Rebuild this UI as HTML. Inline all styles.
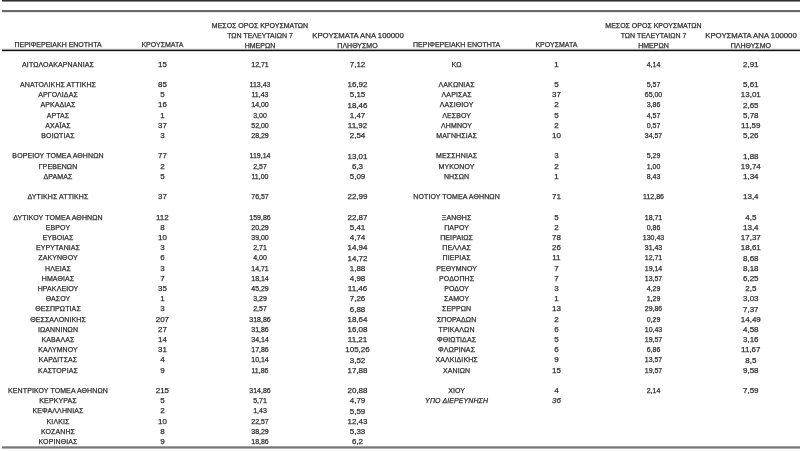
<!DOCTYPE html>
<html><head><meta charset="utf-8"><style>
html,body{margin:0;padding:0;background:#fff;}
body{width:800px;height:451px;position:relative;overflow:hidden;font-family:"Liberation Sans",Arial,sans-serif;color:#2a2a2a;}
.ln{position:absolute;left:2px;right:0;}
div.h,div.n,div.c,div.m,div.p{position:absolute;width:200px;text-align:center;white-space:nowrap;}
#t{position:absolute;left:0;top:0;width:800px;height:451px;will-change:transform;}
.it{font-style:italic} body{-webkit-text-stroke:0.25px #333;} .n{letter-spacing:0.1px}.h{font-size:7px;line-height:10px;}.n{font-size:7px;line-height:10px;}.c{font-size:8px;line-height:10px;}.m{font-size:7px;line-height:10px;}.p{font-size:8px;line-height:10px;}
</style></head><body>
<div class="ln" style="top:0px;height:1px;background:#303030"></div><div class="ln" style="top:1px;height:1px;background:#8a8a8a"></div><div class="ln" style="top:10px;height:1px;background:#6a6a6a"></div><div class="ln" style="top:11px;height:1px;background:#6a6a6a"></div><div class="ln" style="top:12px;height:1px;background:#e4e4e4"></div><div class="ln" style="top:48px;height:1px;background:#eeeeee"></div><div class="ln" style="top:49px;height:1px;background:#9a9a9a"></div><div class="ln" style="top:50px;height:1px;background:#111111"></div><div class="ln" style="top:51px;height:1px;background:#d8d8d8"></div><div class="ln" style="top:446px;height:1px;background:#a0a0a0"></div><div class="ln" style="top:447px;height:1px;background:#787878"></div><div class="ln" style="top:448px;height:1px;background:#b0b0b0"></div>
<div id="t">
<div class="h" style="left:-42.00px;top:40.47px">ΠΕΡΙΦΕΡΕΙΑΚΗ ΕΝΟΤΗΤΑ</div>
<div class="h" style="left:62.40px;top:40.47px">ΚΡΟΥΣΜΑΤΑ</div>
<div class="h" style="left:160.00px;top:20.57px">ΜΕΣΟΣ ΟΡΟΣ ΚΡΟΥΣΜΑΤΩΝ</div>
<div class="h" style="left:160.00px;top:31.27px">ΤΩΝ ΤΕΛΕΥΤΑΙΩΝ 7</div>
<div class="h" style="left:160.00px;top:40.77px">ΗΜΕΡΩΝ</div>
<div class="h" style="left:257.50px;top:31.27px;transform:scaleX(1.11)">ΚΡΟΥΣΜΑΤΑ ΑΝΑ 100000</div>
<div class="h" style="left:257.50px;top:40.77px">ΠΛΗΘΥΣΜΟ</div>
<div class="h" style="left:356.60px;top:40.47px">ΠΕΡΙΦΕΡΕΙΑΚΗ ΕΝΟΤΗΤΑ</div>
<div class="h" style="left:456.40px;top:40.47px">ΚΡΟΥΣΜΑΤΑ</div>
<div class="h" style="left:553.50px;top:20.57px">ΜΕΣΟΣ ΟΡΟΣ ΚΡΟΥΣΜΑΤΩΝ</div>
<div class="h" style="left:553.50px;top:31.27px">ΤΩΝ ΤΕΛΕΥΤΑΙΩΝ 7</div>
<div class="h" style="left:553.50px;top:40.77px">ΗΜΕΡΩΝ</div>
<div class="h" style="left:650.80px;top:31.27px;transform:scaleX(1.11)">ΚΡΟΥΣΜΑΤΑ ΑΝΑ 100000</div>
<div class="h" style="left:650.80px;top:40.77px">ΠΛΗΘΥΣΜΟ</div>
<div class="n" style="left:-42.00px;top:59.57px">ΑΙΤΩΛΟΑΚΑΡΝΑΝΙΑΣ</div>
<div class="c" style="left:62.40px;top:59.63px">15</div>
<div class="m" style="left:160.00px;top:59.57px">12,71</div>
<div class="p" style="left:257.50px;top:59.73px">7,12</div>
<div class="n" style="left:-42.00px;top:79.97px">ΑΝΑΤΟΛΙΚΗΣ ΑΤΤΙΚΗΣ</div>
<div class="c" style="left:62.40px;top:80.03px">85</div>
<div class="m" style="left:160.00px;top:79.97px">113,43</div>
<div class="p" style="left:257.50px;top:80.13px">16,92</div>
<div class="n" style="left:-42.00px;top:90.17px">ΑΡΓΟΛΙΔΑΣ</div>
<div class="c" style="left:62.40px;top:90.23px">5</div>
<div class="m" style="left:160.00px;top:90.17px">11,43</div>
<div class="p" style="left:257.50px;top:90.33px">5,15</div>
<div class="n" style="left:-42.00px;top:100.37px">ΑΡΚΑΔΙΑΣ</div>
<div class="c" style="left:62.40px;top:100.43px">16</div>
<div class="m" style="left:160.00px;top:100.37px">14,00</div>
<div class="p" style="left:257.50px;top:100.53px">18,46</div>
<div class="n" style="left:-42.00px;top:110.57px">ΑΡΤΑΣ</div>
<div class="c" style="left:62.40px;top:110.63px">1</div>
<div class="m" style="left:160.00px;top:110.57px">3,00</div>
<div class="p" style="left:257.50px;top:110.73px">1,47</div>
<div class="n" style="left:-42.00px;top:120.77px">ΑΧΑΪΑΣ</div>
<div class="c" style="left:62.40px;top:120.83px">37</div>
<div class="m" style="left:160.00px;top:120.77px">52,00</div>
<div class="p" style="left:257.50px;top:120.93px">11,92</div>
<div class="n" style="left:-42.00px;top:130.97px">ΒΟΙΩΤΙΑΣ</div>
<div class="c" style="left:62.40px;top:131.03px">3</div>
<div class="m" style="left:160.00px;top:130.97px">28,29</div>
<div class="p" style="left:257.50px;top:131.13px">2,54</div>
<div class="n" style="left:-42.00px;top:151.37px">ΒΟΡΕΙΟΥ ΤΟΜΕΑ ΑΘΗΝΩΝ</div>
<div class="c" style="left:62.40px;top:151.43px">77</div>
<div class="m" style="left:160.00px;top:151.37px">119,14</div>
<div class="p" style="left:257.50px;top:151.53px">13,01</div>
<div class="n" style="left:-42.00px;top:161.57px">ΓΡΕΒΕΝΩΝ</div>
<div class="c" style="left:62.40px;top:161.63px">2</div>
<div class="m" style="left:160.00px;top:161.57px">2,57</div>
<div class="p" style="left:257.50px;top:161.73px">6,3</div>
<div class="n" style="left:-42.00px;top:171.77px">ΔΡΑΜΑΣ</div>
<div class="c" style="left:62.40px;top:171.83px">5</div>
<div class="m" style="left:160.00px;top:171.77px">11,00</div>
<div class="p" style="left:257.50px;top:171.93px">5,09</div>
<div class="n" style="left:-42.00px;top:192.17px">ΔΥΤΙΚΗΣ ΑΤΤΙΚΗΣ</div>
<div class="c" style="left:62.40px;top:192.23px">37</div>
<div class="m" style="left:160.00px;top:192.17px">76,57</div>
<div class="p" style="left:257.50px;top:192.33px">22,99</div>
<div class="n" style="left:-42.00px;top:212.57px">ΔΥΤΙΚΟΥ ΤΟΜΕΑ ΑΘΗΝΩΝ</div>
<div class="c" style="left:62.40px;top:212.63px">112</div>
<div class="m" style="left:160.00px;top:212.57px">159,86</div>
<div class="p" style="left:257.50px;top:212.73px">22,87</div>
<div class="n" style="left:-42.00px;top:222.77px">ΕΒΡΟΥ</div>
<div class="c" style="left:62.40px;top:222.83px">8</div>
<div class="m" style="left:160.00px;top:222.77px">20,29</div>
<div class="p" style="left:257.50px;top:222.93px">5,41</div>
<div class="n" style="left:-42.00px;top:232.97px">ΕΥΒΟΙΑΣ</div>
<div class="c" style="left:62.40px;top:233.03px">10</div>
<div class="m" style="left:160.00px;top:232.97px">39,00</div>
<div class="p" style="left:257.50px;top:233.13px">4,74</div>
<div class="n" style="left:-42.00px;top:243.17px">ΕΥΡΥΤΑΝΙΑΣ</div>
<div class="c" style="left:62.40px;top:243.23px">3</div>
<div class="m" style="left:160.00px;top:243.17px">2,71</div>
<div class="p" style="left:257.50px;top:243.33px">14,94</div>
<div class="n" style="left:-42.00px;top:253.37px">ΖΑΚΥΝΘΟΥ</div>
<div class="c" style="left:62.40px;top:253.43px">6</div>
<div class="m" style="left:160.00px;top:253.37px">4,00</div>
<div class="p" style="left:257.50px;top:253.53px">14,72</div>
<div class="n" style="left:-42.00px;top:263.57px">ΗΛΕΙΑΣ</div>
<div class="c" style="left:62.40px;top:263.63px">3</div>
<div class="m" style="left:160.00px;top:263.57px">14,71</div>
<div class="p" style="left:257.50px;top:263.73px">1,88</div>
<div class="n" style="left:-42.00px;top:273.77px">ΗΜΑΘΙΑΣ</div>
<div class="c" style="left:62.40px;top:273.83px">7</div>
<div class="m" style="left:160.00px;top:273.77px">18,14</div>
<div class="p" style="left:257.50px;top:273.93px">4,98</div>
<div class="n" style="left:-42.00px;top:283.97px">ΗΡΑΚΛΕΙΟΥ</div>
<div class="c" style="left:62.40px;top:284.03px">35</div>
<div class="m" style="left:160.00px;top:283.97px">45,29</div>
<div class="p" style="left:257.50px;top:284.13px">11,46</div>
<div class="n" style="left:-42.00px;top:294.17px">ΘΑΣΟΥ</div>
<div class="c" style="left:62.40px;top:294.23px">1</div>
<div class="m" style="left:160.00px;top:294.17px">3,29</div>
<div class="p" style="left:257.50px;top:294.33px">7,26</div>
<div class="n" style="left:-42.00px;top:304.37px">ΘΕΣΠΡΩΤΙΑΣ</div>
<div class="c" style="left:62.40px;top:304.43px">3</div>
<div class="m" style="left:160.00px;top:304.37px">2,57</div>
<div class="p" style="left:257.50px;top:304.53px">6,88</div>
<div class="n" style="left:-42.00px;top:314.57px">ΘΕΣΣΑΛΟΝΙΚΗΣ</div>
<div class="c" style="left:62.40px;top:314.63px">207</div>
<div class="m" style="left:160.00px;top:314.57px">318,86</div>
<div class="p" style="left:257.50px;top:314.73px">18,64</div>
<div class="n" style="left:-42.00px;top:324.77px">ΙΩΑΝΝΙΝΩΝ</div>
<div class="c" style="left:62.40px;top:324.83px">27</div>
<div class="m" style="left:160.00px;top:324.77px">31,86</div>
<div class="p" style="left:257.50px;top:324.93px">16,08</div>
<div class="n" style="left:-42.00px;top:334.97px">ΚΑΒΑΛΑΣ</div>
<div class="c" style="left:62.40px;top:335.03px">14</div>
<div class="m" style="left:160.00px;top:334.97px">34,14</div>
<div class="p" style="left:257.50px;top:335.13px">11,21</div>
<div class="n" style="left:-42.00px;top:345.17px">ΚΑΛΥΜΝΟΥ</div>
<div class="c" style="left:62.40px;top:345.23px">31</div>
<div class="m" style="left:160.00px;top:345.17px">17,86</div>
<div class="p" style="left:257.50px;top:345.33px">105,26</div>
<div class="n" style="left:-42.00px;top:355.37px">ΚΑΡΔΙΤΣΑΣ</div>
<div class="c" style="left:62.40px;top:355.43px">4</div>
<div class="m" style="left:160.00px;top:355.37px">10,14</div>
<div class="p" style="left:257.50px;top:355.53px">3,52</div>
<div class="n" style="left:-42.00px;top:365.57px">ΚΑΣΤΟΡΙΑΣ</div>
<div class="c" style="left:62.40px;top:365.63px">9</div>
<div class="m" style="left:160.00px;top:365.57px">11,86</div>
<div class="p" style="left:257.50px;top:365.73px">17,88</div>
<div class="n" style="left:-42.00px;top:385.97px">ΚΕΝΤΡΙΚΟΥ ΤΟΜΕΑ ΑΘΗΝΩΝ</div>
<div class="c" style="left:62.40px;top:386.03px">215</div>
<div class="m" style="left:160.00px;top:385.97px">314,86</div>
<div class="p" style="left:257.50px;top:386.13px">20,88</div>
<div class="n" style="left:-42.00px;top:396.17px">ΚΕΡΚΥΡΑΣ</div>
<div class="c" style="left:62.40px;top:396.23px">5</div>
<div class="m" style="left:160.00px;top:396.17px">5,71</div>
<div class="p" style="left:257.50px;top:396.33px">4,79</div>
<div class="n" style="left:-42.00px;top:406.37px">ΚΕΦΑΛΛΗΝΙΑΣ</div>
<div class="c" style="left:62.40px;top:406.43px">2</div>
<div class="m" style="left:160.00px;top:406.37px">1,43</div>
<div class="p" style="left:257.50px;top:406.53px">5,59</div>
<div class="n" style="left:-42.00px;top:416.57px">ΚΙΛΚΙΣ</div>
<div class="c" style="left:62.40px;top:416.63px">10</div>
<div class="m" style="left:160.00px;top:416.57px">22,57</div>
<div class="p" style="left:257.50px;top:416.73px">12,43</div>
<div class="n" style="left:-42.00px;top:426.77px">ΚΟΖΑΝΗΣ</div>
<div class="c" style="left:62.40px;top:426.83px">8</div>
<div class="m" style="left:160.00px;top:426.77px">38,29</div>
<div class="p" style="left:257.50px;top:426.93px">5,33</div>
<div class="n" style="left:-42.00px;top:436.97px">ΚΟΡΙΝΘΙΑΣ</div>
<div class="c" style="left:62.40px;top:437.03px">9</div>
<div class="m" style="left:160.00px;top:436.97px">18,86</div>
<div class="p" style="left:257.50px;top:437.13px">6,2</div>
<div class="n" style="left:356.60px;top:59.57px">ΚΩ</div>
<div class="c" style="left:456.40px;top:59.63px">1</div>
<div class="m" style="left:553.50px;top:59.57px">4,14</div>
<div class="p" style="left:650.80px;top:59.73px">2,91</div>
<div class="n" style="left:356.60px;top:79.97px">ΛΑΚΩΝΙΑΣ</div>
<div class="c" style="left:456.40px;top:80.03px">5</div>
<div class="m" style="left:553.50px;top:79.97px">5,57</div>
<div class="p" style="left:650.80px;top:80.13px">5,61</div>
<div class="n" style="left:356.60px;top:90.17px">ΛΑΡΙΣΑΣ</div>
<div class="c" style="left:456.40px;top:90.23px">37</div>
<div class="m" style="left:553.50px;top:90.17px">65,00</div>
<div class="p" style="left:650.80px;top:90.33px">13,01</div>
<div class="n" style="left:356.60px;top:100.37px">ΛΑΣΙΘΙΟΥ</div>
<div class="c" style="left:456.40px;top:100.43px">2</div>
<div class="m" style="left:553.50px;top:100.37px">3,86</div>
<div class="p" style="left:650.80px;top:100.53px">2,65</div>
<div class="n" style="left:356.60px;top:110.57px">ΛΕΣΒΟΥ</div>
<div class="c" style="left:456.40px;top:110.63px">5</div>
<div class="m" style="left:553.50px;top:110.57px">4,57</div>
<div class="p" style="left:650.80px;top:110.73px">5,78</div>
<div class="n" style="left:356.60px;top:120.77px">ΛΗΜΝΟΥ</div>
<div class="c" style="left:456.40px;top:120.83px">2</div>
<div class="m" style="left:553.50px;top:120.77px">0,57</div>
<div class="p" style="left:650.80px;top:120.93px">11,59</div>
<div class="n" style="left:356.60px;top:130.97px">ΜΑΓΝΗΣΙΑΣ</div>
<div class="c" style="left:456.40px;top:131.03px">10</div>
<div class="m" style="left:553.50px;top:130.97px">34,57</div>
<div class="p" style="left:650.80px;top:131.13px">5,26</div>
<div class="n" style="left:356.60px;top:151.37px">ΜΕΣΣΗΝΙΑΣ</div>
<div class="c" style="left:456.40px;top:151.43px">3</div>
<div class="m" style="left:553.50px;top:151.37px">5,29</div>
<div class="p" style="left:650.80px;top:151.53px">1,88</div>
<div class="n" style="left:356.60px;top:161.57px">ΜΥΚΟΝΟΥ</div>
<div class="c" style="left:456.40px;top:161.63px">2</div>
<div class="m" style="left:553.50px;top:161.57px">1,00</div>
<div class="p" style="left:650.80px;top:161.73px">19,74</div>
<div class="n" style="left:356.60px;top:171.77px">ΝΗΣΩΝ</div>
<div class="c" style="left:456.40px;top:171.83px">1</div>
<div class="m" style="left:553.50px;top:171.77px">8,43</div>
<div class="p" style="left:650.80px;top:171.93px">1,34</div>
<div class="n" style="left:356.60px;top:192.17px">ΝΟΤΙΟΥ ΤΟΜΕΑ ΑΘΗΝΩΝ</div>
<div class="c" style="left:456.40px;top:192.23px">71</div>
<div class="m" style="left:553.50px;top:192.17px">112,86</div>
<div class="p" style="left:650.80px;top:192.33px">13,4</div>
<div class="n" style="left:356.60px;top:212.57px">ΞΑΝΘΗΣ</div>
<div class="c" style="left:456.40px;top:212.63px">5</div>
<div class="m" style="left:553.50px;top:212.57px">18,71</div>
<div class="p" style="left:650.80px;top:212.73px">4,5</div>
<div class="n" style="left:356.60px;top:222.77px">ΠΑΡΟΥ</div>
<div class="c" style="left:456.40px;top:222.83px">2</div>
<div class="m" style="left:553.50px;top:222.77px">0,86</div>
<div class="p" style="left:650.80px;top:222.93px">13,4</div>
<div class="n" style="left:356.60px;top:232.97px">ΠΕΙΡΑΙΩΣ</div>
<div class="c" style="left:456.40px;top:233.03px">78</div>
<div class="m" style="left:553.50px;top:232.97px">130,43</div>
<div class="p" style="left:650.80px;top:233.13px">17,37</div>
<div class="n" style="left:356.60px;top:243.17px">ΠΕΛΛΑΣ</div>
<div class="c" style="left:456.40px;top:243.23px">26</div>
<div class="m" style="left:553.50px;top:243.17px">31,43</div>
<div class="p" style="left:650.80px;top:243.33px">18,61</div>
<div class="n" style="left:356.60px;top:253.37px">ΠΙΕΡΙΑΣ</div>
<div class="c" style="left:456.40px;top:253.43px">11</div>
<div class="m" style="left:553.50px;top:253.37px">12,71</div>
<div class="p" style="left:650.80px;top:253.53px">8,68</div>
<div class="n" style="left:356.60px;top:263.57px">ΡΕΘΥΜΝΟΥ</div>
<div class="c" style="left:456.40px;top:263.63px">7</div>
<div class="m" style="left:553.50px;top:263.57px">19,14</div>
<div class="p" style="left:650.80px;top:263.73px">8,18</div>
<div class="n" style="left:356.60px;top:273.77px">ΡΟΔΟΠΗΣ</div>
<div class="c" style="left:456.40px;top:273.83px">7</div>
<div class="m" style="left:553.50px;top:273.77px">13,57</div>
<div class="p" style="left:650.80px;top:273.93px">6,25</div>
<div class="n" style="left:356.60px;top:283.97px">ΡΟΔΟΥ</div>
<div class="c" style="left:456.40px;top:284.03px">3</div>
<div class="m" style="left:553.50px;top:283.97px">4,29</div>
<div class="p" style="left:650.80px;top:284.13px">2,5</div>
<div class="n" style="left:356.60px;top:294.17px">ΣΑΜΟΥ</div>
<div class="c" style="left:456.40px;top:294.23px">1</div>
<div class="m" style="left:553.50px;top:294.17px">1,29</div>
<div class="p" style="left:650.80px;top:294.33px">3,03</div>
<div class="n" style="left:356.60px;top:304.37px">ΣΕΡΡΩΝ</div>
<div class="c" style="left:456.40px;top:304.43px">13</div>
<div class="m" style="left:553.50px;top:304.37px">29,86</div>
<div class="p" style="left:650.80px;top:304.53px">7,37</div>
<div class="n" style="left:356.60px;top:314.57px">ΣΠΟΡΑΔΩΝ</div>
<div class="c" style="left:456.40px;top:314.63px">2</div>
<div class="m" style="left:553.50px;top:314.57px">0,29</div>
<div class="p" style="left:650.80px;top:314.73px">14,49</div>
<div class="n" style="left:356.60px;top:324.77px">ΤΡΙΚΑΛΩΝ</div>
<div class="c" style="left:456.40px;top:324.83px">6</div>
<div class="m" style="left:553.50px;top:324.77px">10,43</div>
<div class="p" style="left:650.80px;top:324.93px">4,58</div>
<div class="n" style="left:356.60px;top:334.97px">ΦΘΙΩΤΙΔΑΣ</div>
<div class="c" style="left:456.40px;top:335.03px">5</div>
<div class="m" style="left:553.50px;top:334.97px">19,57</div>
<div class="p" style="left:650.80px;top:335.13px">3,16</div>
<div class="n" style="left:356.60px;top:345.17px">ΦΛΩΡΙΝΑΣ</div>
<div class="c" style="left:456.40px;top:345.23px">6</div>
<div class="m" style="left:553.50px;top:345.17px">6,86</div>
<div class="p" style="left:650.80px;top:345.33px">11,67</div>
<div class="n" style="left:356.60px;top:355.37px">ΧΑΛΚΙΔΙΚΗΣ</div>
<div class="c" style="left:456.40px;top:355.43px">9</div>
<div class="m" style="left:553.50px;top:355.37px">13,57</div>
<div class="p" style="left:650.80px;top:355.53px">8,5</div>
<div class="n" style="left:356.60px;top:365.57px">ΧΑΝΙΩΝ</div>
<div class="c" style="left:456.40px;top:365.63px">15</div>
<div class="m" style="left:553.50px;top:365.57px">19,57</div>
<div class="p" style="left:650.80px;top:365.73px">9,58</div>
<div class="n" style="left:356.60px;top:385.97px">ΧΙΟΥ</div>
<div class="c" style="left:456.40px;top:386.03px">4</div>
<div class="m" style="left:553.50px;top:385.97px">2,14</div>
<div class="p" style="left:650.80px;top:386.13px">7,59</div>
<div class="n it" style="left:356.60px;top:396.17px">ΥΠΟ ΔΙΕΡΕΥΝΗΣΗ</div>
<div class="c it" style="left:456.40px;top:396.23px">36</div>
</div>
</body></html>
